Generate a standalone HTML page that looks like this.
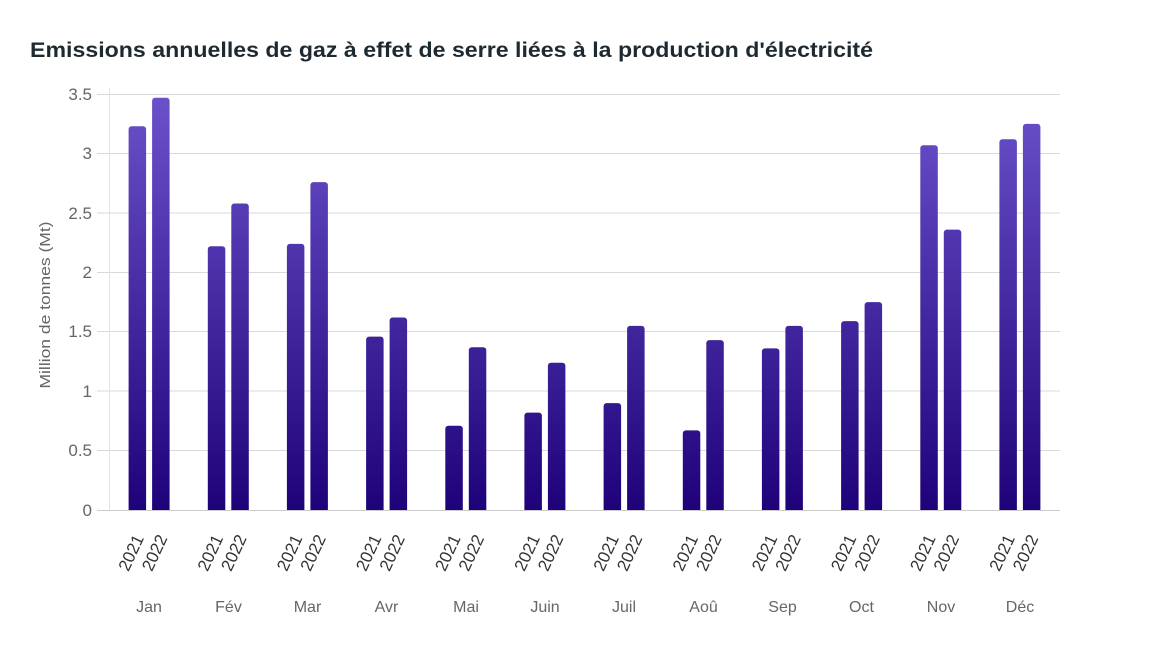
<!DOCTYPE html>
<html><head><meta charset="utf-8"><style>
html,body{margin:0;padding:0;background:#fff;}
svg{display:block;font-family:"Liberation Sans",sans-serif;}
</style></head><body>
<svg width="1167" height="646" viewBox="0 0 1167 646" xmlns="http://www.w3.org/2000/svg">
<defs>
<linearGradient id="g" gradientUnits="userSpaceOnUse" x1="0" y1="94" x2="0" y2="510">
<stop offset="0" stop-color="#6b52cb"/>
<stop offset="1" stop-color="#1f0279"/>
</linearGradient>
<clipPath id="cp"><rect x="100" y="80" width="970" height="430"/></clipPath>
</defs>
<rect width="1167" height="646" fill="#fff"/>
<text x="30" y="57" font-size="21" font-weight="bold" fill="#1f2a30" textLength="843" lengthAdjust="spacingAndGlyphs">Emissions annuelles de gaz à effet de serre liées à la production d'électricité</text>
<g stroke="#d9d9d9" stroke-width="1">
<line x1="97" y1="94.5" x2="1060" y2="94.5"/>
<line x1="97" y1="153.5" x2="1060" y2="153.5"/>
<line x1="97" y1="213" x2="1060" y2="213"/>
<line x1="97" y1="272.5" x2="1060" y2="272.5"/>
<line x1="97" y1="331.5" x2="1060" y2="331.5"/>
<line x1="97" y1="391" x2="1060" y2="391"/>
<line x1="97" y1="450.5" x2="1060" y2="450.5"/>
</g>
<line x1="109.5" y1="88" x2="109.5" y2="510" stroke="#e3e3e3" stroke-width="1"/>
<g font-size="17" fill="#666" text-anchor="end">
<text x="92" y="100">3.5</text>
<text x="92" y="159">3</text>
<text x="92" y="219">2.5</text>
<text x="92" y="278">2</text>
<text x="92" y="337">1.5</text>
<text x="92" y="397">1</text>
<text x="92" y="456">0.5</text>
<text x="92" y="516">0</text>
</g>
<text transform="translate(50,305) rotate(-90)" font-size="15" fill="#666" text-anchor="middle" textLength="167" lengthAdjust="spacingAndGlyphs">Million de tonnes (Mt)</text>
<g clip-path="url(#cp)" fill="url(#g)">
<rect x="128.6" y="126.3" width="17.5" height="390" rx="3"/>
<rect x="152.1" y="97.8" width="17.5" height="420" rx="3"/>
<rect x="207.8" y="246.3" width="17.5" height="270" rx="3"/>
<rect x="231.3" y="203.5" width="17.5" height="310" rx="3"/>
<rect x="286.9" y="243.9" width="17.5" height="270" rx="3"/>
<rect x="310.4" y="182.1" width="17.5" height="330" rx="3"/>
<rect x="366.1" y="336.6" width="17.5" height="180" rx="3"/>
<rect x="389.6" y="317.5" width="17.5" height="200" rx="3"/>
<rect x="445.3" y="425.7" width="17.5" height="90" rx="3"/>
<rect x="468.8" y="347.2" width="17.5" height="170" rx="3"/>
<rect x="524.4" y="412.6" width="17.5" height="100" rx="3"/>
<rect x="547.9" y="362.7" width="17.5" height="150" rx="3"/>
<rect x="603.6" y="403.1" width="17.5" height="110" rx="3"/>
<rect x="627.1" y="325.9" width="17.5" height="190" rx="3"/>
<rect x="682.8" y="430.4" width="17.5" height="85" rx="3"/>
<rect x="706.3" y="340.1" width="17.5" height="175" rx="3"/>
<rect x="761.9" y="348.4" width="17.5" height="165" rx="3"/>
<rect x="785.4" y="325.9" width="17.5" height="190" rx="3"/>
<rect x="841.1" y="321.1" width="17.5" height="195" rx="3"/>
<rect x="864.6" y="302.1" width="17.5" height="210" rx="3"/>
<rect x="920.3" y="145.3" width="17.5" height="370" rx="3"/>
<rect x="943.8" y="229.6" width="17.5" height="285" rx="3"/>
<rect x="999.4" y="139.3" width="17.5" height="375" rx="3"/>
<rect x="1022.9" y="123.9" width="17.5" height="390" rx="3"/>
</g>
<line x1="97" y1="510.5" x2="1060" y2="510.5" stroke="#cccccc" stroke-width="1"/>
<g font-size="17" fill="#333" text-anchor="end">
<text transform="translate(144.3,538) rotate(-65)">2021</text>
<text transform="translate(167.8,538) rotate(-65)">2022</text>
<text transform="translate(223.5,538) rotate(-65)">2021</text>
<text transform="translate(247,538) rotate(-65)">2022</text>
<text transform="translate(302.7,538) rotate(-65)">2021</text>
<text transform="translate(326.2,538) rotate(-65)">2022</text>
<text transform="translate(381.8,538) rotate(-65)">2021</text>
<text transform="translate(405.3,538) rotate(-65)">2022</text>
<text transform="translate(461,538) rotate(-65)">2021</text>
<text transform="translate(484.5,538) rotate(-65)">2022</text>
<text transform="translate(540.2,538) rotate(-65)">2021</text>
<text transform="translate(563.7,538) rotate(-65)">2022</text>
<text transform="translate(619.3,538) rotate(-65)">2021</text>
<text transform="translate(642.8,538) rotate(-65)">2022</text>
<text transform="translate(698.5,538) rotate(-65)">2021</text>
<text transform="translate(722,538) rotate(-65)">2022</text>
<text transform="translate(777.7,538) rotate(-65)">2021</text>
<text transform="translate(801.2,538) rotate(-65)">2022</text>
<text transform="translate(856.8,538) rotate(-65)">2021</text>
<text transform="translate(880.3,538) rotate(-65)">2022</text>
<text transform="translate(936,538) rotate(-65)">2021</text>
<text transform="translate(959.5,538) rotate(-65)">2022</text>
<text transform="translate(1015.2,538) rotate(-65)">2021</text>
<text transform="translate(1038.7,538) rotate(-65)">2022</text>
</g>
<g font-size="16" fill="#666" text-anchor="middle">
<text x="149" y="612">Jan</text>
<text x="228.5" y="612">Fév</text>
<text x="307.5" y="612">Mar</text>
<text x="386.5" y="612">Avr</text>
<text x="466" y="612">Mai</text>
<text x="545" y="612">Juin</text>
<text x="624" y="612">Juil</text>
<text x="703.5" y="612">Aoû</text>
<text x="782.5" y="612">Sep</text>
<text x="861.5" y="612">Oct</text>
<text x="941" y="612">Nov</text>
<text x="1020" y="612">Déc</text>
</g>
</svg>
</body></html>
